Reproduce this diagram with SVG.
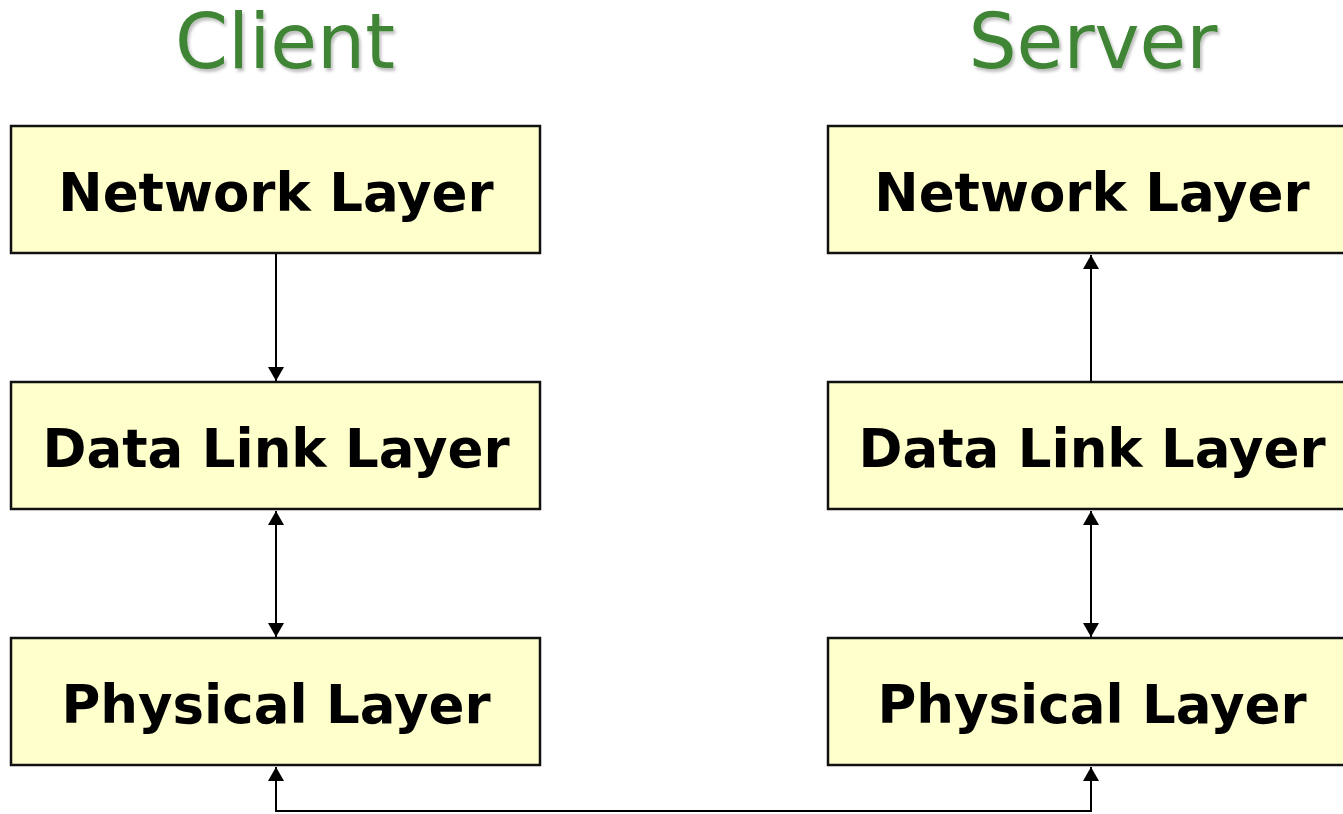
<svg xmlns="http://www.w3.org/2000/svg" width="1343" height="814" viewBox="0 0 1343 814">
  <style>
    .title { font-family: "DejaVu Sans", Verdana, sans-serif; font-size: 76px; fill: #3f8535; text-anchor: middle; }
    .box { fill: #ffffcc; stroke: #111111; stroke-width: 2.5; }
    .label { font-family: "DejaVu Sans", Verdana, sans-serif; font-weight: bold; font-size: 53px; fill: #000000; text-anchor: middle; }
    .link { fill: none; stroke: #000000; stroke-width: 2; }
  </style>
  <defs>
    <marker id="arrow" viewBox="0 0 14 16" refX="14" refY="8" markerWidth="14" markerHeight="16" markerUnits="userSpaceOnUse" orient="auto-start-reverse">
      <path d="M0,0 L14,8 L0,16 Z" fill="#000000"/>
    </marker>
    <filter id="shadow" x="-10%" y="-10%" width="130%" height="140%">
      <feDropShadow dx="2" dy="3" stdDeviation="1.5" flood-color="#000000" flood-opacity="0.25"/>
    </filter>
  </defs>

  <!-- column headings -->
  <g id="headings" filter="url(#shadow)">
    <text class="title" x="285" y="68">Client</text>
    <text class="title" x="1093" y="68">Server</text>
  </g>

  <!-- client stack -->
  <g id="client-network">
    <rect class="box" x="11" y="126" width="529" height="127"/>
    <text class="label" x="276" y="211">Network Layer</text>
  </g>
  <g id="client-datalink">
    <rect class="box" x="11" y="382" width="529" height="127"/>
    <text class="label" x="276" y="467">Data Link Layer</text>
  </g>
  <g id="client-physical">
    <rect class="box" x="11" y="638" width="529" height="127"/>
    <text class="label" x="276" y="723">Physical Layer</text>
  </g>

  <!-- server stack -->
  <g id="server-network">
    <rect class="box" x="828" y="126" width="529" height="127"/>
    <text class="label" x="1092" y="211">Network Layer</text>
  </g>
  <g id="server-datalink">
    <rect class="box" x="828" y="382" width="529" height="127"/>
    <text class="label" x="1092" y="467">Data Link Layer</text>
  </g>
  <g id="server-physical">
    <rect class="box" x="828" y="638" width="529" height="127"/>
    <text class="label" x="1092" y="723">Physical Layer</text>
  </g>

  <!-- connectors -->
  <g id="connectors">
    <path class="link" d="M276,254 L276,381" marker-end="url(#arrow)"/>
    <path class="link" d="M276,511 L276,637" marker-start="url(#arrow)" marker-end="url(#arrow)"/>
    <path class="link" d="M1091,381 L1091,255" marker-end="url(#arrow)"/>
    <path class="link" d="M1091,511 L1091,637" marker-start="url(#arrow)" marker-end="url(#arrow)"/>
    <path class="link" d="M276,767 L276,811 L1091,811 L1091,767" marker-start="url(#arrow)" marker-end="url(#arrow)"/>
  </g>
</svg>
